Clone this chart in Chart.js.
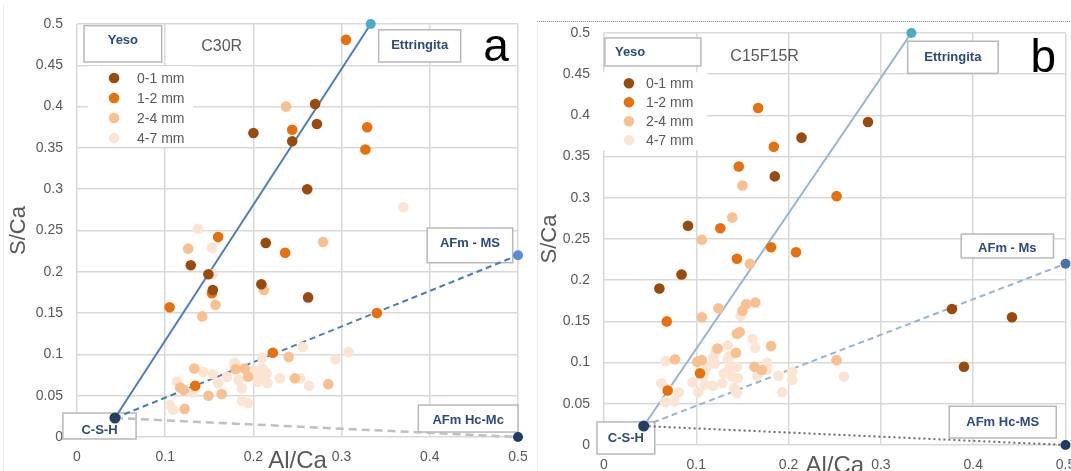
<!DOCTYPE html>
<html>
<head>
<meta charset="utf-8">
<script src="https://cdn.jsdelivr.net/npm/chart.js@4.4.1/dist/chart.umd.min.js"></script>
<style>
    body { margin: 0; width: 1071px; height: 471px; overflow: hidden; position: relative; background: #fff; }
    canvas { position: absolute; top: 0; }
    #frame-a { position: absolute; left: 3px; top: 4px; height: 467px; border-left: 1px solid #ececec; }
    #frame-b { position: absolute; left: 537px; top: 21px; width: 534px; height: 450px; border-top: 1px dotted #8c8c8c; border-left: 1px solid #ececec; }
</style>
</head>
<body>
<div id="frame-a"></div>
<div id="frame-b"></div>
<canvas id="chart-a" width="527" height="471" style="left:0"></canvas>
<canvas id="chart-b" width="538" height="471" style="left:533px"></canvas>
<script>
// Size fractions (legend)
const sizeLabels = ['0-1 mm', '1-2 mm', '2-4 mm', '4-7 mm'];
const sizeColors = ['#9a4a0d', '#e8700c', '#f8bf91', '#fce4d3'];

// Axis ticks
const xTicks = [0, 0.1, 0.2, 0.3, 0.4, 0.5];
const xTickLabels = ['0', '0.1', '0.2', '0.3', '0.4', '0.5'];
const yTicks = [0, 0.05, 0.1, 0.15, 0.2, 0.25, 0.3, 0.35, 0.4, 0.45, 0.5];
const yTickLabels = ['0', '0.05', '0.1', '0.15', '0.2', '0.25', '0.3', '0.35', '0.4', '0.45', '0.5'];

// Reference phases [Al/Ca, S/Ca]
const cshPoint = [0.043, 0.023];
const ettringitaPoint = [0.333, 0.5];
const afmMsPoint = [0.5, 0.22];
const afmHcPoint = [0.5, 0];

// C30R (panel a) [Al/Ca, S/Ca]
const c30r_01 = [[0.200, 0.368], [0.270, 0.403], [0.272, 0.379], [0.244, 0.358], [0.261, 0.300], [0.214, 0.235],
    [0.129, 0.208], [0.149, 0.197], [0.154, 0.178], [0.209, 0.185], [0.262, 0.169]];
const c30r_12 = [[0.305, 0.481], [0.244, 0.372], [0.329, 0.375], [0.327, 0.348], [0.160, 0.242], [0.105, 0.157],
    [0.153, 0.174], [0.134, 0.062], [0.236, 0.223], [0.340, 0.150], [0.222, 0.102]];
const c30r_24 = [[0.237, 0.400], [0.279, 0.236], [0.126, 0.228], [0.157, 0.160], [0.142, 0.146], [0.212, 0.178],
    [0.122, 0.034], [0.117, 0.060], [0.121, 0.057], [0.149, 0.050], [0.164, 0.052], [0.133, 0.083], [0.190, 0.083],
    [0.194, 0.073], [0.180, 0.082], [0.240, 0.097], [0.247, 0.071], [0.285, 0.064]];
const c30r_47 = [[0.370, 0.278], [0.137, 0.252], [0.153, 0.229], [0.154, 0.197], [0.105, 0.039], [0.109, 0.033],
    [0.113, 0.067], [0.131, 0.054], [0.143, 0.079], [0.154, 0.076], [0.160, 0.065], [0.170, 0.073], [0.179, 0.087],
    [0.183, 0.069], [0.187, 0.059], [0.187, 0.044], [0.194, 0.041], [0.200, 0.080], [0.204, 0.073], [0.210, 0.096],
    [0.210, 0.083], [0.205, 0.067], [0.216, 0.065], [0.215, 0.077], [0.230, 0.071], [0.253, 0.071], [0.263, 0.062],
    [0.256, 0.109], [0.293, 0.094], [0.308, 0.103], [0.179, 0.090], [0.213, 0.074]];

// C15F15R (panel b) [Al/Ca, S/Ca]
const c15f15r_01 = [[0.286, 0.392], [0.214, 0.373], [0.185, 0.326], [0.091, 0.266], [0.084, 0.207], [0.060, 0.190],
    [0.377, 0.165], [0.442, 0.155], [0.390, 0.095]];
const c15f15r_12 = [[0.167, 0.409], [0.184, 0.362], [0.146, 0.338], [0.126, 0.263], [0.252, 0.302], [0.181, 0.240],
    [0.208, 0.234], [0.144, 0.226], [0.068, 0.150], [0.104, 0.087], [0.069, 0.066]];
const c15f15r_24 = [[0.150, 0.315], [0.139, 0.276], [0.106, 0.249], [0.158, 0.220], [0.106, 0.155], [0.124, 0.166],
    [0.150, 0.163], [0.154, 0.171], [0.164, 0.173], [0.144, 0.135], [0.147, 0.137], [0.123, 0.117], [0.143, 0.112],
    [0.181, 0.120], [0.077, 0.104], [0.101, 0.101], [0.106, 0.103], [0.163, 0.095], [0.171, 0.091], [0.252, 0.103]];
const c15f15r_47 = [[0.148, 0.157], [0.161, 0.129], [0.164, 0.118], [0.134, 0.121], [0.136, 0.108], [0.118, 0.106],
    [0.120, 0.099], [0.112, 0.095], [0.067, 0.102], [0.062, 0.075], [0.069, 0.068], [0.066, 0.052], [0.076, 0.053],
    [0.081, 0.064], [0.096, 0.076], [0.102, 0.064], [0.109, 0.073], [0.108, 0.084], [0.118, 0.072], [0.128, 0.075],
    [0.130, 0.087], [0.136, 0.093], [0.144, 0.095], [0.139, 0.083], [0.145, 0.081], [0.141, 0.069], [0.144, 0.063],
    [0.166, 0.084], [0.176, 0.091], [0.177, 0.100], [0.189, 0.084], [0.193, 0.064], [0.204, 0.089], [0.204, 0.079],
    [0.260, 0.083], [0.121, 0.114], [0.134, 0.104]];

Chart.defaults.font.family = "'Liberation Sans', Arial, sans-serif";
Chart.defaults.color = '#595959';

const toXY = arr => arr.map(p => ({ x: p[0], y: p[1] }));

// Text boxes, legend, panel letter and sample name
const decorPlugin = {
    id: 'decor',
    beforeDatasetsDraw(chart, args, opts) {
        const { ctx, scales: { x, y } } = chart;
        ctx.save();
        opts.boxes.forEach(b => {
            const l = x.getPixelForValue(b.x0), r = x.getPixelForValue(b.x1);
            const t = y.getPixelForValue(b.y0), btm = y.getPixelForValue(b.y1);
            ctx.fillStyle = '#fff';
            ctx.fillRect(l, t, r - l, btm - t);
            ctx.strokeStyle = '#b8b8b8';
            ctx.lineWidth = 1.5;
            ctx.strokeRect(l, t, r - l, btm - t);
            ctx.fillStyle = '#2c4a7c';
            ctx.font = "bold 13px 'Liberation Sans', Arial, sans-serif";
            ctx.textBaseline = 'middle';
            if (b.left) {
                ctx.textAlign = 'left';
                ctx.fillText(b.text, l + b.left, (t + btm) / 2 + (b.dy || 0));
            } else {
                ctx.textAlign = 'center';
                ctx.fillText(b.text, (l + r) / 2, (t + btm) / 2 + (b.dy || 0));
            }
        });

        // legend
        const lg = opts.legend;
        const lx = x.getPixelForValue(lg.x), ly = y.getPixelForValue(lg.y);
        ctx.fillStyle = '#fff';
        ctx.fillRect(lx + lg.bg[0], ly + lg.bg[1], lg.bg[2], lg.bg[3]);
        ctx.font = "14px 'Liberation Sans', Arial, sans-serif";
        ctx.textAlign = 'left';
        ctx.textBaseline = 'middle';
        sizeLabels.forEach((label, i) => {
            const yy = ly + i * lg.step;
            ctx.fillStyle = sizeColors[i];
            ctx.beginPath();
            ctx.arc(lx, yy, 5.3, 0, Math.PI * 2);
            ctx.fill();
            ctx.fillStyle = '#595959';
            ctx.fillText(label, lx + lg.textGap, yy + 1);
        });
        ctx.restore();
    },
    afterDraw(chart, args, opts) {
        const { ctx, scales: { x, y } } = chart;
        ctx.save();
        ctx.textAlign = 'center';
        ctx.textBaseline = 'middle';
        ctx.fillStyle = '#595959';
        ctx.font = "16px 'Liberation Sans', Arial, sans-serif";
        ctx.fillText(opts.sample.text, x.getPixelForValue(opts.sample.x), y.getPixelForValue(opts.sample.y));
        ctx.fillStyle = '#000';
        ctx.font = "46px 'Liberation Sans', Arial, sans-serif";
        ctx.fillText(opts.letter.text, x.getPixelForValue(opts.letter.x), y.getPixelForValue(opts.letter.y));
        ctx.restore();
    }
};

function makeChart(canvasId, p) {
    const pts = (data, i) => ({
        label: sizeLabels[i],
        data: toXY(data),
        backgroundColor: sizeColors[i],
        borderWidth: 0,
        pointRadius: 5.3,
        clip: false
    });
    const tieLine = (end, color, dash, width, endColor) => ({
        data: toXY([cshPoint, end]),
        showLine: true,
        borderColor: color,
        borderWidth: width,
        borderDash: dash,
        pointRadius: [0, 5],
        pointBackgroundColor: endColor,
        pointBorderWidth: 0,
        clip: false
    });

    return new Chart(document.getElementById(canvasId).getContext('2d'), {
        type: 'scatter',
        data: {
            datasets: [
                pts(p.series[0], 0),
                pts(p.series[1], 1),
                pts(p.series[2], 2),
                pts(p.series[3], 3),
                { data: toXY([cshPoint]), pointRadius: 5.5, backgroundColor: '#243f60', borderWidth: 0, clip: false },
                tieLine(ettringitaPoint, p.lineColor, [], 2, '#4bacc6'),
                tieLine(afmMsPoint, p.lineColor, [6, 4], 2, p.msColor),
                tieLine(afmHcPoint, p.hcColor, p.hcDash, p.hcWidth, '#1f3b63')
            ]
        },
        options: {
            responsive: false,
            animation: false,
            events: [],
            layout: { padding: { left: 0, right: p.padRight, top: p.padTop, bottom: 0 } },
            plugins: {
                legend: { display: false },
                tooltip: { enabled: false },
                decor: { boxes: p.boxes, legend: p.legend, sample: p.sample, letter: p.letter }
            },
            scales: {
                x: {
                    type: 'linear',
                    min: 0,
                    max: 0.5,
                    afterBuildTicks: ax => { ax.ticks = xTicks.map(v => ({ value: v })); },
                    ticks: { callback: (v, i) => xTickLabels[i], font: { size: 14 }, padding: 12, maxRotation: 0, autoSkip: false },
                    grid: { color: '#d9d9d9', lineWidth: 1.5, drawTicks: false },
                    border: { display: false },
                    title: { display: true, text: 'Al/Ca', font: { size: 24, lineHeight: 1 }, padding: { top: 0, bottom: p.xTitlePad } },
                    afterFit: ax => { ax.height = p.xHeight; ax.paddingLeft = 0; ax.paddingRight = 0; }
                },
                y: {
                    type: 'linear',
                    min: 0,
                    max: 0.5,
                    afterBuildTicks: ax => { ax.ticks = yTicks.map(v => ({ value: v })); },
                    ticks: { callback: (v, i) => yTickLabels[i], font: { size: 14 }, padding: 14, autoSkip: false },
                    grid: { color: '#d9d9d9', lineWidth: 1.5, drawTicks: false },
                    border: { display: false },
                    title: { display: true, text: 'S/Ca', font: { size: 22, lineHeight: 1 }, padding: { top: p.yTitlePad, bottom: 0 } },
                    afterFit: ax => { ax.width = p.yWidth; ax.paddingTop = 0; ax.paddingBottom = 0; }
                }
            }
        },
        plugins: [decorPlugin]
    });
}

// Panel a
makeChart('chart-a', {
    series: [c30r_01, c30r_12, c30r_24, c30r_47],
    lineColor: '#4a7ebb', msColor: '#558ed5',
    hcColor: '#bfbfbf', hcDash: [8, 5], hcWidth: 2.5,
    padRight: 9, padTop: 24, xHeight: 34, yWidth: 77, xTitlePad: -2, yTitlePad: 8,
    boxes: [
        { text: 'Yeso', x0: 0.008, x1: 0.096, y0: 0.498, y1: 0.454, dy: -3 },
        { text: 'Ettringita', x0: 0.342, x1: 0.435, y0: 0.493, y1: 0.454 },
        { text: 'AFm - MS', x0: 0.397, x1: 0.494, y0: 0.253, y1: 0.211, dy: -2 },
        { text: 'AFm Hc-Mc', x0: 0.387, x1: 0.5, y0: 0.0387, y1: 0.006, dy: 2 },
        { text: 'C-S-H', x0: -0.016, x1: 0.067, y0: 0.029, y1: -0.0024, dy: 4 }
    ],
    legend: { x: 0.042, y: 0.4346, step: 20, textGap: 23, bg: [-26, -12, 105, 81] },
    sample: { text: 'C30R', x: 0.164, y: 0.473 },
    letter: { text: 'a', x: 0.475, y: 0.470 }
});

// Panel b
makeChart('chart-b', {
    series: [c15f15r_01, c15f15r_12, c15f15r_24, c15f15r_47],
    lineColor: '#95b3d7', msColor: '#4f6fa8',
    hcColor: '#6b6b6b', hcDash: [2, 3], hcWidth: 2,
    padRight: 4, padTop: 33, xHeight: 26, yWidth: 71, xTitlePad: -7, yTitlePad: 6,
    boxes: [
        { text: 'Yeso', x0: 0.001, x1: 0.105, y0: 0.494, y1: 0.460, left: 10 },
        { text: 'Ettringita', x0: 0.329, x1: 0.427, y0: 0.490, y1: 0.451 },
        { text: 'AFm - Ms', x0: 0.387, x1: 0.487, y0: 0.256, y1: 0.227, dy: 2 },
        { text: 'AFm Hc-MS', x0: 0.374, x1: 0.490, y0: 0.047, y1: 0.0085 },
        { text: 'C-S-H', x0: -0.0076, x1: 0.055, y0: 0.028, y1: -0.011 }
    ],
    legend: { x: 0.027, y: 0.439, step: 19, textGap: 17, bg: [-29, -11, 107, 78] },
    sample: { text: 'C15F15R', x: 0.174, y: 0.471 },
    letter: { text: 'b', x: 0.476, y: 0.468 }
});
</script>
</body>
</html>
